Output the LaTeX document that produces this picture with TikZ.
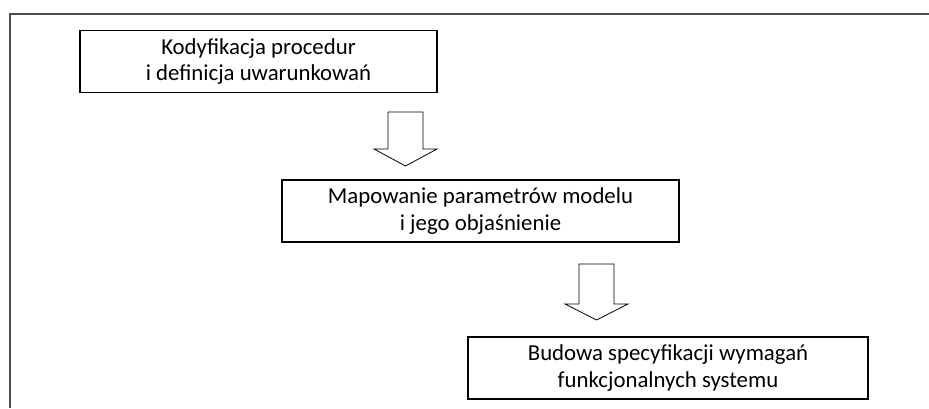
\documentclass[tikz,border=0pt]{standalone}
\usepackage{fontspec}
\setmainfont{Carlito}
\usetikzlibrary{positioning}

\begin{document}
\begin{tikzpicture}[
    x=0.75pt, y=-0.75pt,
    stepbox/.style={draw=black, line width=0.8pt, minimum height=46.5pt, align=center, inner sep=0pt, font=\fontsize{17.1}{20}\selectfont},
    hollow/.style={draw=black, line width=0.6pt, fill=white, line join=miter},
    frame/.style={draw=black!70, line width=1.3pt}
]
\useasboundingbox (0,0) rectangle (929,408);

% Frame (open to the right and bottom)
\draw[frame] (929,14) -- (10,14) -- (10,408);

% Steps
\node[stepbox, minimum width=267.75pt] (kodyf) at (258.5,61.5) {Kodyfikacja procedur\\i definicja uwarunkowań};
\node[stepbox, minimum width=297.75pt] (mapow) at (480.5,211) {Mapowanie parametrów modelu\\i jego objaśnienie};
\node[stepbox, minimum width=300pt] (budowa) at (668,368) {Budowa specyfikacji wymagań\\funkcjonalnych systemu};

% Block arrows
\draw[hollow] (388,112) -- (423,112) -- (423,149) -- (437,149) -- (405.5,166) -- (374,149) -- (388,149) -- cycle;
\draw[hollow] (579,264) -- (614,264) -- (614,304) -- (628,304) -- (596.5,320) -- (565,304) -- (579,304) -- cycle;

\end{tikzpicture}
\end{document}
